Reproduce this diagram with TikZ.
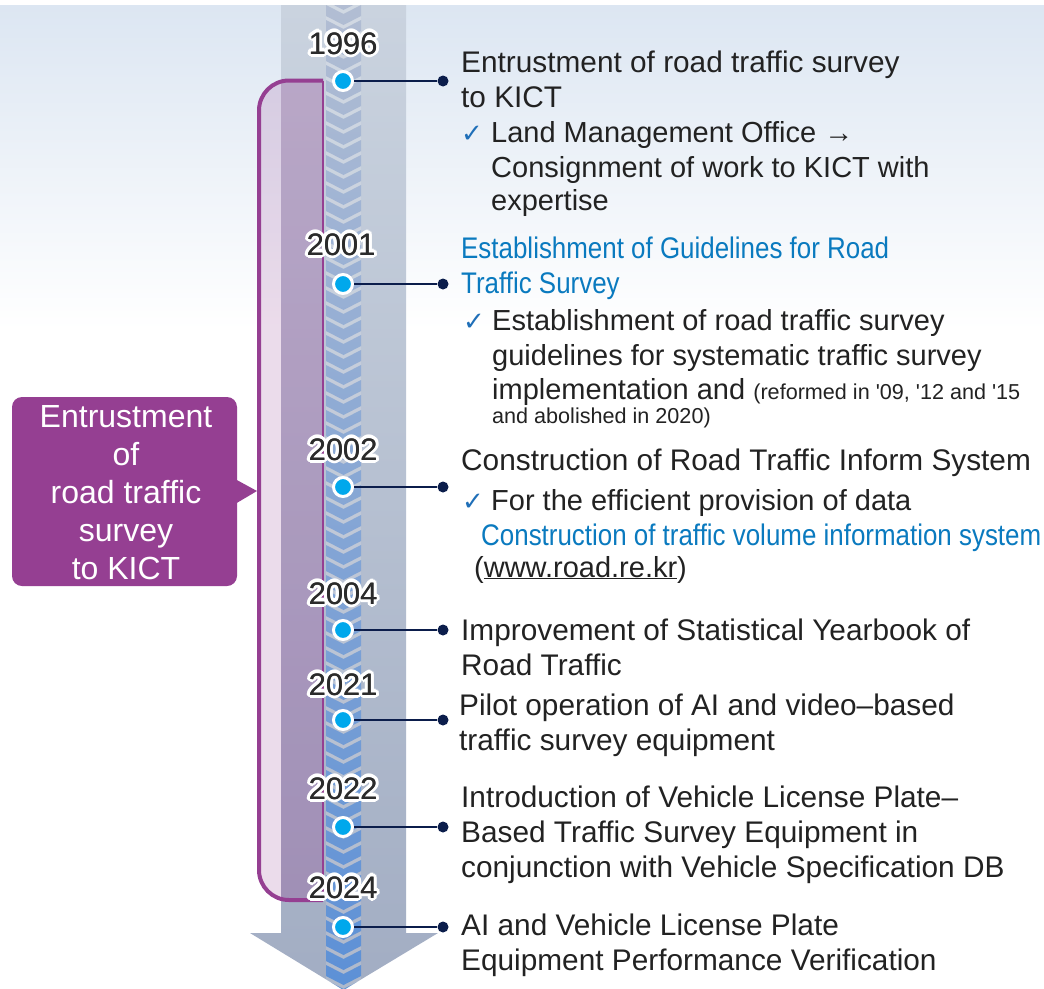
\documentclass[tikz,border=0pt]{standalone}
\usepackage{fontspec}
\setmainfont{Liberation Sans}
\newfontfamily\condfont[FakeStretch=0.87]{Liberation Sans}
\newfontfamily\notefont[Ligatures=TeXOff]{Liberation Sans}
\newfontfamily\symfont{DejaVu Sans}
\definecolor{bgtop}{HTML}{DCE6F2}
\definecolor{shafttop}{HTML}{CAD3DF}
\definecolor{shaftmid}{HTML}{BAC4D4}
\definecolor{shaftbot}{HTML}{A2ADC3}
\definecolor{striptop}{HTML}{B3BED3}
\definecolor{stripmid}{HTML}{8EA9D6}
\definecolor{stripbot}{HTML}{5A8FD6}
\definecolor{purp}{HTML}{953F92}
\definecolor{navy}{HTML}{0B1D4B}
\definecolor{dotblue}{HTML}{00A8EC}
\definecolor{txt}{HTML}{222222}
\definecolor{bluetxt}{HTML}{0A7ABF}
\definecolor{chkblue}{HTML}{1F6FB8}
\definecolor{yeartxt}{HTML}{2B2B2B}
\newcommand\yearlab[3]{%
  \foreach \a in {0,30,...,330}{\node[yearstyle,text=white,shift={(\a:3.2pt)}] at (#2) {#3};}
  \foreach \a in {15,45,...,345}{\node[yearstyle,text=white,shift={(\a:1.8pt)}] at (#2) {#3};}
  \node[yearstyle,xshift=0.25pt] at (#2) {#3};
  \node[yearstyle] (#1) at (#2) {#3};}
\begin{document}
\begin{tikzpicture}[x=1pt,y=-1pt,
  mainline/.style={font=\fontsize{29.8}{34}\selectfont, text=txt, anchor=base west, inner sep=0pt},
  subline/.style={font=\fontsize{29}{34}\selectfont, text=txt, anchor=base west, inner sep=0pt},
  blueline/.style={font=\condfont\fontsize{29.8}{34}\selectfont, text=bluetxt, anchor=base west, inner sep=0pt},
  noteline/.style={font=\notefont\fontsize{21.6}{26}\selectfont, text=txt, anchor=base west, inner sep=0pt},
  chk/.style={font=\symfont\fontsize{26}{28}\selectfont, text=chkblue, anchor=base west, inner sep=0pt},
  yearstyle/.style={font=\fontsize{31}{34}\selectfont, text=yeartxt, anchor=base, inner sep=0pt},
  calltext/.style={font=\fontsize{32}{36}\selectfont, text=white, anchor=base, inner sep=0pt},
  dot/.style={circle, fill=dotblue, draw=white, line width=3pt, minimum size=19pt, inner sep=0pt},
  enddot/.style={circle, fill=navy, minimum size=11pt, inner sep=0pt},
  conn/.style={draw=navy, line width=2pt}]
\useasboundingbox (0,0) rectangle (1044,988);
% background
\fill[white] (0,0) rectangle (1044,988);
\shade[top color=bgtop, bottom color=white] (0,5) rectangle (1044,330);
% arrow shaft
\shade[top color=shafttop, middle color=shaftmid, bottom color=shaftbot]
  (281,5) -- (406,5) -- (406,933) -- (438,933) -- (343.5,990) -- (250,933) -- (281,933) -- cycle;
% chevron strip
\begin{scope}
  \clip (281,5) -- (406,5) -- (406,933) -- (438,933) -- (343.5,990) -- (250,933) -- (281,933) -- cycle;
  \fill[white, opacity=0.15] (326,5) rectangle (361,990);
  \shade[top color=striptop, middle color=stripmid, bottom color=stripbot]
    \foreach \i in {0,...,67}{
      (326,{-10+15*\i}) -- (343.5,{-1+15*\i}) -- (361,{-10+15*\i}) -- (361,{1+15*\i})
      -- (343.5,{10+15*\i}) -- (326,{1+15*\i}) -- cycle};
\end{scope}
% bracket
\fill[purp, opacity=0.18, rounded corners=30pt] (323,80.5) -- (259,80.5) -- (259,900) -- (323,900);
\begin{scope}
  \clip (281,0) rectangle (406,988);
  \fill[purp, opacity=0.12, rounded corners=30pt] (323,80.5) -- (259,80.5) -- (259,900) -- (323,900);
\end{scope}
\draw[purp, line width=4pt, rounded corners=30pt] (323,80.5) -- (259,80.5) -- (259,900) -- (323,900);
\draw[purp, line width=1.2pt] (323,80.5) -- (323,900);
% callout
\fill[purp, rounded corners=10pt] (12,397) rectangle (237,586);
\fill[purp] (235,479) -- (257,491) -- (235,504) -- cycle;
\node[calltext] (c1) at (126,427) {Entrustment};
\node[calltext] (c2) at (126,465) {of};
\node[calltext] (c3) at (126,503) {road traffic};
\node[calltext] (c4) at (126,541) {survey};
\node[calltext] (c5) at (126,579) {to KICT};
% dots and connectors
\foreach \n/\y in {1/81,2/284,3/487,4/630,5/720,6/827,7/927}{
  \node[enddot] (e\n) at (443,\y) {};
  \draw[conn] (343,\y) -- (e\n);
  \node[dot] (d\n) at (343,\y) {};
}
% years
\yearlab{y1}{343,54}{1996}
\yearlab{y2}{341,255}{2001}
\yearlab{y3}{343,460}{2002}
\yearlab{y4}{343,604}{2004}
\yearlab{y5}{343,695}{2021}
\yearlab{y6}{343,799}{2022}
\yearlab{y7}{343,898}{2024}
% texts
\node[mainline] (t1a) at (461,72) {Entrustment of road traffic survey};
\node[mainline] (t1b) at (461,107) {to KICT};
\node[chk] (k1) at (461,142) {✓};
\node[subline] (t1c) at (491,142) {Land Management Office →};
\node[subline] (t1d) at (491,177) {Consignment of work to KICT with};
\node[subline] (t1e) at (491,210) {expertise};
\node[blueline] (t2a) at (461,258) {Establishment of Guidelines for Road};
\node[blueline] (t2b) at (461,293) {Traffic Survey};
\node[chk] (k2) at (463,330) {✓};
\node[subline] (t2c) at (492,330) {Establishment of road traffic survey};
\node[subline] (t2d) at (492,365) {guidelines for systematic traffic survey};
\node[subline] (t2e) at (492,399) {implementation and {\notefont\fontsize{21.6}{26}\selectfont (reformed in '09, '12 and '15}};
\node[noteline] (t2f) at (492,423) {and abolished in 2020)};
\node[mainline] (t3a) at (461,470) {Construction of Road Traffic Inform System};
\node[chk] (k3) at (462,510) {✓};
\node[subline] (t3b) at (491,510) {For the efficient provision of data};
\node[blueline] (t3c) at (481,545) {Construction of traffic volume information system};
\node[subline] (t3d) at (474,577) {(\underline{www.road.re.kr})};
\node[mainline] (t4a) at (461,640) {Improvement of Statistical Yearbook of};
\node[mainline] (t4b) at (461,675) {Road Traffic};
\node[mainline] (t5a) at (459,715) {Pilot operation of AI and video–based};
\node[mainline] (t5b) at (459,750) {traffic survey equipment};
\node[mainline] (t6a) at (461,807) {Introduction of Vehicle License Plate–};
\node[mainline] (t6b) at (461,842) {Based Traffic Survey Equipment in};
\node[mainline] (t6c) at (461,877) {conjunction with Vehicle Specification DB};
\node[mainline] (t7a) at (461,935) {AI and Vehicle License Plate};
\node[mainline] (t7b) at (461,970) {Equipment Performance Verification};
\end{tikzpicture}
\end{document}
